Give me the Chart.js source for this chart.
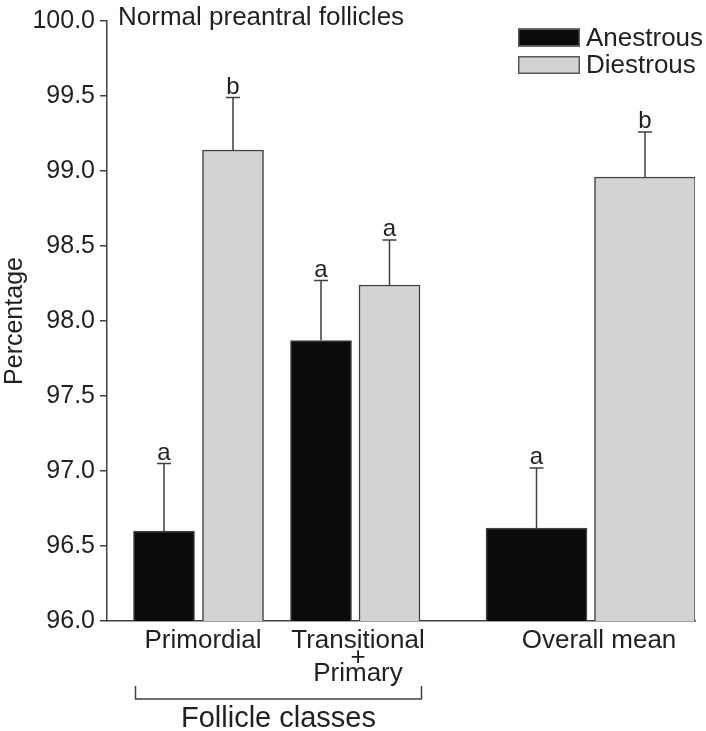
<!DOCTYPE html>
<html>
<head>
<meta charset="utf-8">
<script src="https://cdn.jsdelivr.net/npm/chart.js@4/dist/chart.umd.min.js"></script>
<style>
  html, body { margin: 0; padding: 0; background: #fff; }
  #wrap { width: 706px; height: 731px; }
</style>
</head>
<body>
<div id="wrap"><canvas id="follicleChart" width="706" height="731"></canvas></div>
<script>
// Data
const categories = [['Primordial'], ['Transitional', '+', 'Primary'], ['Overall mean']];
const anestrous = [96.60, 97.87, 96.62];
const diestrous = [99.14, 98.24, 98.96];
const anestrousSem = [0.45, 0.40, 0.40];
const diestrousSem = [0.35, 0.30, 0.30];
const anestrousLetters = ['a', 'a', 'a'];
const diestrousLetters = ['b', 'a', 'b'];
const yTicks = [96.0, 96.5, 97.0, 97.5, 98.0, 98.5, 99.0, 99.5, 100.0];

// Layout (x units = px inside the plot area)
const xRange = 588;
const anestrousX = [57, 214, 429.5];
const diestrousX = [126, 282.5, 538];
const labelX = [96, 251, 492];
const narrowBar = 61;
const wideBar = 101;

const ink = '#231f20';
const edge = '#414042';
const black = '#0b0b0c';
const grey = '#d1d3d4';
const font = 'Helvetica, Arial, "Liberation Sans", sans-serif';

function pts(xs, ys, from, to) {
    const out = [];
    for (let i = from; i < to; i++) out.push({ x: xs[i], y: ys[i] });
    return out;
}

// datasets 0/1: follicle classes, 2/3: overall mean (wider bars)
const datasets = [
    { label: 'Anestrous', data: pts(anestrousX, anestrous, 0, 2), sem: anestrousSem.slice(0, 2), letters: anestrousLetters.slice(0, 2), backgroundColor: black, barThickness: narrowBar },
    { label: 'Diestrous', data: pts(diestrousX, diestrous, 0, 2), sem: diestrousSem.slice(0, 2), letters: diestrousLetters.slice(0, 2), backgroundColor: grey, barThickness: narrowBar },
    { label: 'Anestrous', data: pts(anestrousX, anestrous, 2, 3), sem: anestrousSem.slice(2), letters: anestrousLetters.slice(2), backgroundColor: black, barThickness: wideBar },
    { label: 'Diestrous', data: pts(diestrousX, diestrous, 2, 3), sem: diestrousSem.slice(2), letters: diestrousLetters.slice(2), backgroundColor: grey, barThickness: wideBar }
];
datasets.forEach(ds => {
    ds.borderColor = edge;
    ds.borderWidth = 1.5;
    ds.grouped = false;
});

// Error bars and significance letters
const errorBars = {
    id: 'errorBars',
    afterDatasetsDraw(chart) {
        const ctx = chart.ctx;
        const yScale = chart.scales.y;
        ctx.save();
        ctx.strokeStyle = edge;
        ctx.lineWidth = 1.5;
        ctx.fillStyle = ink;
        ctx.font = '24px ' + font;
        ctx.textAlign = 'center';
        ctx.textBaseline = 'alphabetic';
        chart.data.datasets.forEach((ds, di) => {
            chart.getDatasetMeta(di).data.forEach((bar, i) => {
                const top = yScale.getPixelForValue(ds.data[i].y + ds.sem[i]);
                ctx.beginPath();
                ctx.moveTo(bar.x, bar.y);
                ctx.lineTo(bar.x, top);
                ctx.moveTo(bar.x - 7, top);
                ctx.lineTo(bar.x + 7, top);
                ctx.stroke();
                ctx.fillText(ds.letters[i], bar.x, top - 4);
            });
        });
        ctx.restore();
    }
};

// Title, legend and "Follicle classes" bracket
const annotations = {
    id: 'annotations',
    afterDraw(chart) {
        const ctx = chart.ctx;
        const area = chart.chartArea;
        ctx.save();
        ctx.fillStyle = ink;
        ctx.font = '26px ' + font;
        ctx.textAlign = 'left';
        ctx.textBaseline = 'alphabetic';
        ctx.fillText('Normal preantral follicles', area.left + 11, 25);

        // legend
        const entries = [datasets[0], datasets[1]];
        entries.forEach((ds, i) => {
            const y = 28.5 + i * 27.5;
            ctx.fillStyle = ds.backgroundColor;
            ctx.fillRect(518, y, 62, 18);
            ctx.strokeStyle = '#58595b';
            ctx.lineWidth = 1.5;
            ctx.strokeRect(518.75, y + 0.75, 60.5, 16.5);
            ctx.fillStyle = ink;
            ctx.textBaseline = 'middle';
            ctx.fillText(ds.label, 586, y + 10);
        });

        // bracket under the two follicle classes
        const bars0 = chart.getDatasetMeta(0).data;
        const bars1 = chart.getDatasetMeta(1).data;
        const x0 = bars0[0].x - bars0[0].width / 2 + 2;
        const x1 = bars1[1].x + bars1[1].width / 2 + 1.5;
        ctx.strokeStyle = edge;
        ctx.lineWidth = 1.5;
        ctx.beginPath();
        ctx.moveTo(x0, 686);
        ctx.lineTo(x0, 699);
        ctx.lineTo(x1, 699);
        ctx.lineTo(x1, 686);
        ctx.stroke();
        ctx.fillStyle = ink;
        ctx.font = '29px ' + font;
        ctx.textAlign = 'center';
        ctx.textBaseline = 'alphabetic';
        ctx.fillText('Follicle classes', (x0 + x1) / 2, 727);
        ctx.restore();
    }
};

Chart.defaults.font.family = font;
Chart.defaults.color = ink;

new Chart(document.getElementById('follicleChart'), {
    type: 'bar',
    data: { datasets: datasets },
    options: {
        responsive: false,
        animation: false,
        layout: { padding: { top: 21, right: 11, left: 0, bottom: 0 } },
        plugins: {
            legend: { display: false },
            tooltip: { enabled: false }
        },
        scales: {
            x: {
                type: 'linear',
                min: 0,
                max: xRange,
                offset: false,
                grid: { display: false, drawTicks: false },
                border: { display: true, color: edge, width: 1.5 },
                afterBuildTicks(scale) {
                    scale.ticks = labelX.map(v => ({ value: v }));
                },
                afterFit(scale) { scale.height = 110; },
                ticks: {
                    autoSkip: false,
                    maxRotation: 0,
                    padding: 12,
                    color: ink,
                    font: { size: 26, lineHeight: 0.635 },
                    callback: (v, i) => categories[i]
                }
            },
            y: {
                min: 96,
                max: 100,
                afterBuildTicks(scale) {
                    scale.ticks = yTicks.map(v => ({ value: v }));
                },
                afterFit(scale) { scale.width = 107; },
                grid: { drawOnChartArea: false, drawTicks: true, tickLength: 7, color: edge, lineWidth: 1.5 },
                border: { display: true, color: edge, width: 1.5 },
                ticks: {
                    padding: 5,
                    color: ink,
                    font: { size: 25 },
                    callback: v => v.toFixed(1)
                },
                title: {
                    display: true,
                    text: 'Percentage',
                    color: ink,
                    font: { size: 25 },
                    padding: { top: 0, bottom: 0 }
                }
            }
        }
    },
    plugins: [errorBars, annotations]
});
</script>
</body>
</html>
